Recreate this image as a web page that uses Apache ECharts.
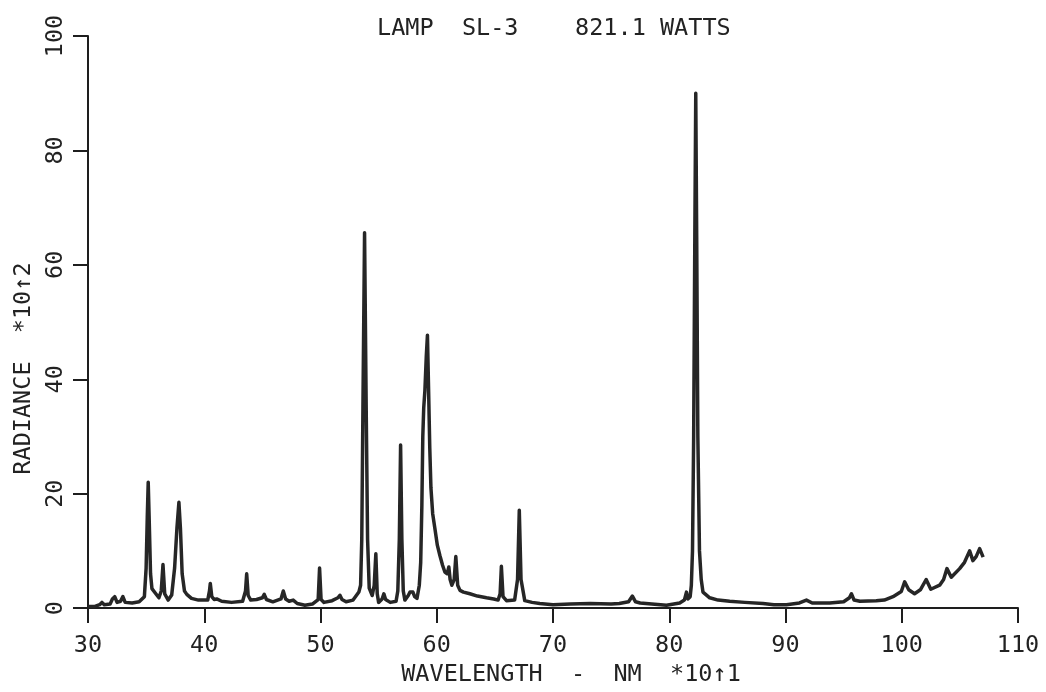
<!DOCTYPE html>
<html>
<head>
<meta charset="utf-8">
<script src="https://cdn.jsdelivr.net/npm/echarts@6/dist/echarts.min.js"></script>
<style>
html,body{margin:0;padding:0;background:#ffffff;}
#chart{width:1046px;height:692px;}
</style>
</head>
<body>
<div id="chart"></div>
<script>
// Wavelength (nm x10)
var wavelength = [
  30.0, 30.6, 31.0, 31.2, 31.4, 31.9, 32.1, 32.3, 32.5, 32.8,
  33.0, 33.2, 33.8, 34.4, 34.85, 35.0, 35.1, 35.18, 35.27, 35.38,
  35.5, 35.8, 36.1, 36.3, 36.45, 36.6, 36.9, 37.2, 37.45, 37.65,
  37.82, 37.95, 38.1, 38.3, 38.5, 38.9, 39.5, 40.3, 40.45, 40.52,
  40.65, 40.85, 41.07, 41.5, 42.35, 43.3, 43.55, 43.65, 43.78, 44.0,
  44.5, 45.0, 45.16, 45.35, 45.9, 46.6, 46.8, 47.0, 47.3, 47.65,
  48.0, 48.66, 49.3, 49.8, 49.92, 50.05, 50.3, 51.0, 51.5, 51.67,
  51.85, 52.2, 52.8, 53.3, 53.45, 53.55, 53.65, 53.79, 53.93, 54.05,
  54.19, 54.45, 54.62, 54.76, 54.88, 55.0, 55.3, 55.45, 55.6, 56.0,
  56.5, 56.65, 56.78, 56.89, 57.0, 57.12, 57.26, 57.55, 57.7, 57.95,
  58.1, 58.3, 58.5, 58.62, 58.72, 58.8, 58.88, 58.98, 59.1, 59.2,
  59.3, 59.4, 59.5, 59.65, 59.84, 60.05, 60.27, 60.5, 60.7, 60.9,
  61.04, 61.15, 61.3, 61.5, 61.64, 61.8, 62.0, 62.3, 62.85, 63.5,
  64.28, 64.9, 65.28, 65.45, 65.56, 65.7, 66.0, 66.7, 66.95, 67.1,
  67.25, 67.57, 68.2, 68.86, 70.0, 71.5, 73.2, 75.0, 75.7, 76.5,
  76.83, 77.1, 77.5, 78.5, 79.76, 80.9, 81.3, 81.48, 81.6, 81.8,
  81.9, 82.0, 82.1, 82.2, 82.28, 82.36, 82.46, 82.6, 82.75, 82.9,
  83.48, 84.2, 85.2, 86.5, 88.07, 89.0, 90.08, 91.2, 91.8, 92.3,
  93.8, 95.0, 95.5, 95.67, 95.9, 96.4, 97.8, 98.5, 99.25, 99.96,
  100.25, 100.6, 101.1, 101.6, 102.1, 102.5, 103.26, 103.6, 103.89, 104.26,
  104.98, 105.4, 105.84, 106.12, 106.4, 106.7, 107.0
];
// Radiance (x10^2)
var radiance = [
  0.3, 0.3, 0.6, 1.0, 0.6, 0.7, 1.6, 2.0, 1.0, 1.2,
  2.0, 1.0, 0.9, 1.1, 2.0, 7.0, 16.0, 22.0, 15.0, 6.0,
  3.4, 2.6, 1.8, 3.0, 7.6, 2.5, 1.4, 2.3, 7.0, 14.0,
  18.5, 14.0, 6.0, 3.0, 2.4, 1.7, 1.4, 1.4, 3.0, 4.3,
  2.0, 1.5, 1.6, 1.2, 1.0, 1.2, 3.0, 6.0, 2.2, 1.4,
  1.5, 1.8, 2.4, 1.5, 1.1, 1.6, 3.0, 1.6, 1.2, 1.4,
  0.8, 0.5, 0.7, 1.5, 7.0, 1.5, 1.0, 1.3, 1.8, 2.25,
  1.5, 1.1, 1.4, 2.8, 4.0, 12.0, 35.0, 65.6, 35.0, 12.0,
  3.5, 2.2, 4.0, 9.5, 2.5, 1.0, 1.6, 2.5, 1.5, 1.0,
  1.2, 3.0, 12.0, 28.5, 12.0, 3.0, 1.4, 2.2, 2.8, 2.8,
  2.0, 1.7, 4.0, 8.0, 18.0, 30.0, 35.0, 38.0, 44.0, 47.7,
  38.0, 28.0, 21.0, 16.5, 13.9, 11.0, 9.2, 7.5, 6.3, 6.0,
  7.2, 5.0, 4.0, 5.0, 9.0, 4.0, 3.1, 2.8, 2.5, 2.1,
  1.8, 1.6, 1.4, 2.5, 7.3, 2.0, 1.3, 1.4, 5.0, 17.1,
  5.0, 1.3, 1.0, 0.8, 0.6, 0.7, 0.8, 0.7, 0.8, 1.1,
  2.1, 1.1, 0.9, 0.7, 0.5, 0.9, 1.4, 2.8, 1.6, 2.0,
  4.0, 10.0, 30.0, 65.0, 90.0, 65.0, 30.0, 10.0, 5.0, 2.8,
  1.8, 1.4, 1.2, 1.0, 0.8, 0.6, 0.6, 0.9, 1.4, 0.9,
  0.9, 1.1, 1.8, 2.5, 1.4, 1.2, 1.3, 1.4, 2.0, 2.9,
  4.6, 3.2, 2.5, 3.2, 5.0, 3.3, 4.0, 5.0, 6.9, 5.4,
  6.9, 8.0, 10.0, 8.3, 9.0, 10.4, 8.9
];
var titleText = 'LAMP  SL-3    821.1 WATTS';
var xName = 'WAVELENGTH  -  NM  *10\u21911';
var yName = 'RADIANCE  *10\u21912';

var points = wavelength.map(function (w, i) { return [w, radiance[i]]; });

var FONT = 'DejaVu Sans Mono';
var INK = '#222222';
var FS = 23.5;

var chart = echarts.init(document.getElementById('chart'), null, {renderer: 'canvas'});
chart.setOption({
  backgroundColor: '#ffffff',
  animation: false,
  title: {
    text: titleText,
    left: 372,
    top: 12,
    textStyle: {fontFamily: FONT, fontSize: FS, fontWeight: 'normal', color: INK}
  },
  grid: {left: 88, right: 28, top: 36, bottom: 79, containLabel: false},
  xAxis: {
    type: 'value',
    min: 30, max: 110, interval: 10,
    name: xName,
    nameLocation: 'middle',
    nameGap: 51,
    nameTextStyle: {fontFamily: FONT, fontSize: FS, color: INK, padding: [0, 0, 0, 36]},
    axisLine: {show: true, lineStyle: {color: '#1e1e1e', width: 2}},
    axisTick: {show: true, inside: false, length: 15, lineStyle: {color: '#1e1e1e', width: 2}},
    axisLabel: {margin: 26, fontFamily: FONT, fontSize: FS, color: INK},
    splitLine: {show: false}
  },
  yAxis: {
    type: 'value',
    min: 0, max: 100, interval: 20,
    name: yName,
    nameLocation: 'middle',
    nameRotate: 90,
    nameGap: 50,
    nameTextStyle: {fontFamily: FONT, fontSize: FS, color: INK, padding: [0, 93, 0, 0]},
    axisLine: {show: true, lineStyle: {color: '#1e1e1e', width: 2}},
    axisTick: {show: true, inside: false, length: 15, lineStyle: {color: '#1e1e1e', width: 2}},
    axisLabel: {margin: 20, rotate: 90, fontFamily: FONT, fontSize: FS, color: INK},
    splitLine: {show: false}
  },
  series: [{
    type: 'line',
    data: points,
    showSymbol: false,
    smooth: false,
    clip: true,
    lineStyle: {color: '#262626', width: 3.5, join: 'round'}
  }]
});
</script>
</body>
</html>
